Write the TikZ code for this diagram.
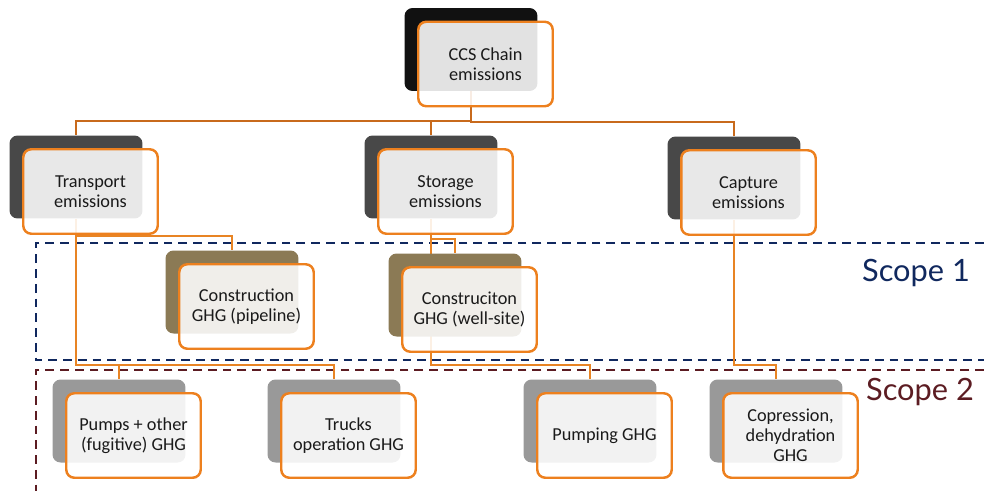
\documentclass[tikz,border=0pt]{standalone}
\usepackage{fontspec}
\setmainfont{Carlito}
\newfontfamily\scopefont{Lato}
\usetikzlibrary{positioning,backgrounds}

\definecolor{tileorange}{RGB}{237,128,30}
\definecolor{linkdark}{RGB}{200,106,28}
\definecolor{linkorange}{RGB}{232,132,36}
\definecolor{backblack}{RGB}{17,17,17}
\definecolor{backdark}{RGB}{72,72,72}
\definecolor{backolive}{RGB}{139,122,85}
\definecolor{backgray}{RGB}{153,153,153}
\definecolor{scopeblue}{RGB}{16,40,94}
\definecolor{scopered}{RGB}{92,28,34}
\definecolor{tiletext}{RGB}{26,26,26}

\begin{document}
\begin{tikzpicture}[
    x=0.02cm, y=-0.02cm,
    tileback/.style={fill=#1, rounded corners=0.16cm, minimum width=2.66cm, minimum height=1.66cm},
    tile/.style={draw=tileorange, line width=1.4pt, rounded corners=0.16cm, fill=white, fill opacity=0.88,
        text opacity=1, text=tiletext, minimum width=2.69cm, minimum height=1.69cm, align=center,
        font=\fontsize{10.4}{11.3}\selectfont},
    link/.style={draw=#1, line width=1.5pt},
    scopebox/.style={draw=#1, dash pattern=on 5pt off 3.4pt, line width=1.5pt},
    scopelabel/.style={text=#1, font=\scopefont\fontsize{17.5}{20}\selectfont}
]
\useasboundingbox (0,0) rectangle (984,491);

% Boxes: dark card behind, orange card in front
\foreach \name/\x/\y/\shade/\txt in {
    ccs/471/49.5/backblack/{CCS Chain\\emissions},
    transport/76/177/backdark/{Transport\\emissions},
    storage/431/177/backdark/{Storage\\emissions},
    capture/734/178/backdark/{Capture\\emissions},
    pipeline/232/292/backolive/{Construction\\GHG (pipeline)},
    wellsite/455/295/backolive/{Construciton\\GHG (well-site)},
    pumps/119/421/backgray/{Pumps + other\\(fugitive) GHG},
    trucks/334/421/backgray/{Trucks\\operation GHG},
    pumping/590/421/backgray/{Pumping GHG},
    copression/776/421/backgray/{Copression,\\dehydration\\GHG}} {
    \node[tileback=\shade] (\name-b) at (\x,\y) {};
    \node[tile] (\name) at ([shift={(14.5,14.5)}]\name-b.center) {\txt};
}

% Scope labels
\node[scopelabel=scopeblue] (scope1) at (916,273) {Scope 1};
\node[scopelabel=scopered] (scope2) at (920,392) {Scope 2};

\begin{pgfonlayer}{background}
% Scope frames
\draw[scopebox=scopeblue] (984,243) -- (36,243) -- (36,360) -- (984,360);
\draw[scopebox=scopered] (984,370) -- (36,370) -- (36,491);

% Connectors
\foreach \p/\c in {ccs/transport, ccs/storage, ccs/capture} {
    \draw[link=linkdark] (\p-b.south) |- ([yshift=0.28cm]\c-b.north) -- (\c-b.north);
}
\foreach \p/\c in {transport/pipeline, transport/pumps, transport/trucks,
    storage/wellsite, storage/pumping, capture/copression} {
    \draw[link=linkorange] (\p-b.south) |- ([yshift=0.28cm]\c-b.north) -- (\c-b.north);
}
\end{pgfonlayer}
\end{tikzpicture}
\end{document}
